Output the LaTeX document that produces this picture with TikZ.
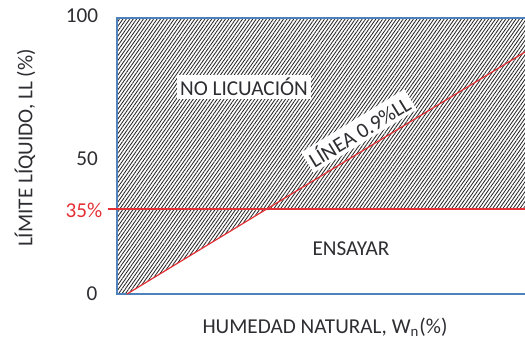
\documentclass[tikz,border=0pt]{standalone}
\usepackage{fontspec}
\setmainfont{Carlito}
\usepackage{xcolor}
\usetikzlibrary{patterns.meta, positioning}

\definecolor{axisblue}{RGB}{79,129,189}
\definecolor{limred}{RGB}{228,48,52}
\definecolor{txtgray}{RGB}{45,45,50}

\tikzset{
  lbl/.style={font=\fontsize{10.6}{12}\selectfont, text=txtgray, inner sep=1pt},
  tick/.style={lbl},
  boxlbl/.style={lbl, fill=white, inner sep=1.5pt},
  hatch/.style={pattern={Lines[angle=55,distance=1.4pt,line width=0.42pt]}, pattern color=black!85},
}

\begin{document}
\begin{tikzpicture}[x=0.5pt,y=0.5pt]
        \useasboundingbox (0,0) rectangle (525,341);

        % corners of the chart
        \coordinate (o) at (117,47);
        \coordinate (tl) at (117,323);
        \coordinate (tr) at (525,323);
        \coordinate (br) at (525,47);
        \coordinate (d0) at (127,47);
        \coordinate (d1) at (525,289);
        \coordinate (h0) at (108,132);
        \coordinate (h1) at (525,132);
        \coordinate (x) at (266,132);

        % hatched zone
        \fill[hatch] (o) -- (d0) -- (x) -- (h1) -- (tr) -- (tl) -- cycle;

        % frame
        \draw[axisblue, line width=0.6pt] (br) -- (o) -- (tl) -- (tr);

        % 35% and 0.9 LL
        \draw[limred, line width=0.6pt] (h0) -- (h1);
        \draw[limred, line width=0.6pt] (d0) -- (d1);

        % ticks
        \node[tick] (t100) at (82,325) {100};
        \node[tick] (t50) at (87,182) {50};
        \node[tick, text=limred] (t35) at (84,131) {35\%};
        \node[tick] (t0) at (92,47) {0};

        % axis titles
        \node[lbl, rotate=90] (ytit) at (25,193) {LÍMITE LÍQUIDO, LL (\%)};
        \node[lbl] (xtit) at (325,14) {HUMEDAD NATURAL, W\textsubscript{n}(\%)};

        % zones
        \node[boxlbl] (nolic) at (244,254) {NO LICUACIÓN};
        \node[lbl] (ens) at (351,92) {ENSAYAR};
        \node[boxlbl, rotate=31.5] (linea) at (359,210) {LÍNEA 0.9\%LL};
      \end{tikzpicture}
\end{document}
